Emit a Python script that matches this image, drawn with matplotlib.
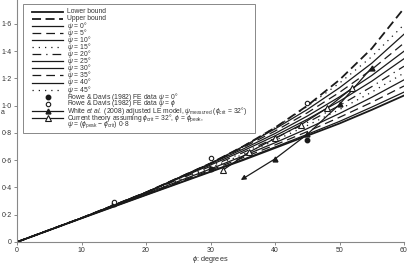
import matplotlib
matplotlib.use("Agg")
import matplotlib.pyplot as plt
from matplotlib.lines import Line2D
from matplotlib.patches import Rectangle

phi = [0, 10, 20, 30, 35, 40, 45, 50, 55, 60]

lower_bound = [0, 0.174, 0.345, 0.515, 0.600, 0.690, 0.780, 0.870, 0.970, 1.075]
upper_bound = [0, 0.176, 0.364, 0.577, 0.700, 0.839, 1.000, 1.190, 1.420, 1.715]
psi_curves = {
    0:  [0, 0.174, 0.346, 0.518, 0.605, 0.697, 0.790, 0.885, 0.990, 1.100],
    5:  [0, 0.175, 0.350, 0.527, 0.618, 0.712, 0.810, 0.915, 1.025, 1.145],
    10: [0, 0.176, 0.354, 0.536, 0.630, 0.728, 0.832, 0.943, 1.062, 1.190],
    15: [0, 0.176, 0.358, 0.545, 0.642, 0.745, 0.855, 0.972, 1.100, 1.240],
    20: [0, 0.176, 0.362, 0.555, 0.655, 0.762, 0.877, 1.002, 1.140, 1.290],
    25: [0, 0.176, 0.364, 0.565, 0.668, 0.779, 0.900, 1.033, 1.180, 1.345],
    30: [0, 0.176, 0.364, 0.574, 0.681, 0.796, 0.924, 1.065, 1.222, 1.400],
    35: [0, 0.176, 0.364, 0.577, 0.692, 0.814, 0.948, 1.098, 1.266, 1.460],
    40: [0, 0.176, 0.364, 0.577, 0.700, 0.830, 0.972, 1.132, 1.312, 1.525],
    45: [0, 0.176, 0.364, 0.577, 0.700, 0.839, 0.995, 1.166, 1.360, 1.595],
}

rd_phi = [15, 30, 45]
rd_psi0 = [0.28, 0.535, 0.75]
rd_psiphi = [0.29, 0.62, 1.02]

white_phi = [40, 45, 50, 55]
white_val = [0.61, 0.79, 1.01, 1.28]
white_arrow_end = (34.7, 0.455)

theory_phi = [32, 36, 40, 44, 48, 52]
theory_val = [0.53, 0.66, 0.76, 0.86, 0.98, 1.13]

xticks = [0, 10, 20, 30, 40, 50, 60]
xticklabels = ["0", "10", "20", "30", "40", "50", "60"]
yticks = [0, 0.2, 0.4, 0.6, 0.8, 1.0, 1.2, 1.4, 1.6]
yticklabels = ["0", "0·2", "0·4", "0·6", "0·8", "1·0", "1·2", "1·4", "1·6"]

styles = {
    0: dict(ls="-"),
    5: dict(ls=(0, (7, 4))),
    10: dict(ls="-"),
    15: dict(ls=(0, (1, 4))),
    20: dict(ls=(0, (7, 4, 1, 4))),
    25: dict(ls="-"),
    30: dict(ls="-"),
    35: dict(ls=(0, (7, 4))),
    40: dict(ls="-"),
    45: dict(ls=(0, (1, 4))),
}

plt.rcParams['font.family'] = ['Liberation Sans', 'DejaVu Sans']
plt.rcParams['mathtext.fontset'] = 'custom'
plt.rcParams['mathtext.rm'] = 'Liberation Sans'
plt.rcParams['mathtext.it'] = 'Liberation Sans:italic'

W, H = 407, 264
fig = plt.figure(figsize=(W / 100, H / 100), dpi=100)
ax = fig.add_axes([17 / W, 22 / H, 387 / W, 242 / H])
col = "#1a1a1a"
lw = 0.9
tcol = "#333333"

ax.set_xlim(0, 60)
ax.set_ylim(0, 1.776)

entries = []
ax.plot(phi, lower_bound, color=col, lw=1.3, ls="-")
entries.append((dict(color=col, lw=1.3, ls="-"), "Lower bound"))
ax.plot(phi, upper_bound, color=col, lw=1.3, ls=(0, (5, 2.5)))
entries.append((dict(color=col, lw=1.3, ls=(0, (5, 2.5))), "Upper bound"))
for p, vals in psi_curves.items():
    ax.plot(phi, vals, color=col, lw=lw, **styles[p])
    entries.append((dict(color=col, lw=lw, **styles[p]), r"$\it{\psi}$ = %d°" % p))

ax.plot(rd_phi, rd_psi0, ls="none", marker="o", ms=3.2, color=col)
entries.append((dict(ls="none", marker="o", ms=3.2, color=col),
                r"Rowe & Davis (1982) FE data $\it{\psi}$ = 0°"))
ax.plot(rd_phi, rd_psiphi, ls="none", marker="o", ms=3.2, mfc="white", mec=col, mew=0.8)
entries.append((dict(ls="none", marker="o", ms=3.2, mfc="white", mec=col, mew=0.8),
                r"Rowe & Davis (1982) FE data $\it{\psi}$ = $\it{\phi}$"))
ax.plot(white_phi, white_val, color=col, lw=lw, marker="^", ms=3.5)
ax.annotate("", xy=white_arrow_end, xytext=(white_phi[0], white_val[0]),
            arrowprops=dict(arrowstyle="-|>", color=col, lw=lw, mutation_scale=7,
                            shrinkA=0, shrinkB=0))
entries.append((dict(color=col, lw=lw, marker="^", ms=3.5),
                r"White $\it{et\ al.}$ (2008) adjusted LE model, $\it{\psi}_{\rm measured}$ ($\it{\phi}_{\rm crit}$ = 32°)"))
ax.plot(theory_phi, theory_val, color=col, lw=lw, marker="^", ms=4, mfc="white", mec=col, mew=0.8)
entries.append((dict(color=col, lw=lw, marker="^", ms=4, mfc="white", mec=col, mew=0.8),
                r"Current theory assuming $\it{\phi}_{\rm crit}$ = 32°, $\it{\phi}$ = $\it{\phi}_{\rm peak}$,"))
entries.append((None, r"$\it{\psi}$ = ($\it{\phi}_{\rm peak}$ − $\it{\phi}_{\rm crit}$) 0·8"))

def px(x, y):
    return (x / W, 1 - y / H)

box = Rectangle(px(23, 133), (255 - 23) / W, (133 - 4) / H, transform=fig.transFigure,
                facecolor="white", edgecolor="#888888", lw=0.7, zorder=5)
fig.add_artist(box)
y0, dy = 11.7, 7.08
for i, (st, lab) in enumerate(entries):
    yy = y0 + i * dy
    if st is not None:
        if st.get("ls") == "none":
            x = [47.5 / W]
            y = [1 - yy / H]
        else:
            x = [32 / W, 63 / W] if "marker" not in st else [32 / W, 47.5 / W, 63 / W]
            y = [1 - yy / H] * len(x)
        kw = dict(st)
        if "marker" in kw and kw.get("ls") != "none":
            kw["markevery"] = [1]
        ln = Line2D(x, y, transform=fig.transFigure, zorder=6, **kw)
        fig.add_artist(ln)
    fig.text(67 / W, 1 - yy / H, lab, fontsize=4.9, color=tcol, va="center", ha="left", zorder=7)

ax.set_xticks(xticks)
ax.set_xticklabels(xticklabels)
ax.set_yticks(yticks)
ax.set_yticklabels(yticklabels)
for s in ["top", "right"]:
    ax.spines[s].set_visible(False)
for s in ["left", "bottom"]:
    ax.spines[s].set_color("#888888")
    ax.spines[s].set_linewidth(0.8)
ax.tick_params(axis="both", colors="#888888", labelcolor=tcol, labelsize=5, length=2.5, width=0.7, pad=1.2)
ax.set_xlabel(r"$\it{\phi}$: degrees", fontsize=5.3, color=tcol, labelpad=0)
fig.text(0.002, 1 - 113 / H, "a", fontsize=5, color=tcol, va="center")

fig.savefig("out.png", dpi=100)
